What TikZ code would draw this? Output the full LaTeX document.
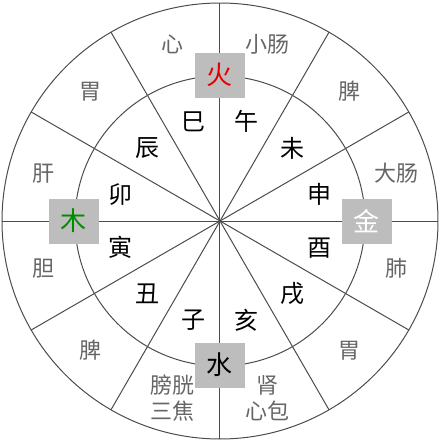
\documentclass[tikz,border=0pt]{standalone}
\usepackage{fontspec}
\newfontfamily\cjk{Noto Sans CJK SC}
\tikzset{
  ring/.style={draw=black!70, line width=1pt},
  branch/.style={font=\cjk\fontsize{24}{24}\selectfont, text=black},
  organ/.style={font=\cjk\fontsize{22}{26}\selectfont, text=black!60, align=center},
  phase/.style={fill=black!26, minimum width=50pt, minimum height=45pt,
    inner sep=0pt, font=\cjk\fontsize{26}{26}\selectfont}
}

\begin{document}
\begin{tikzpicture}[x=1pt,y=1pt]
  \useasboundingbox (-220,-219) rectangle (220,221);
  \coordinate (O) at (0,0);
  \draw[ring] (O) circle (218);
  \draw[ring] (O) circle (145);
  \foreach \a in {0,30,...,330}
    \draw[ring] (O) -- (\a:218);
  % branches
  \foreach \t/\a [count=\i] in {午/75, 未/45, 申/15, 酉/-15, 戌/-45, 亥/-75,
      子/-105, 丑/-135, 寅/-165, 卯/165, 辰/135, 巳/105}
    \node[branch] (b\i) at (\a:103) {\t};
  % organs
  \foreach \t/\a [count=\i] in {小肠/75, 脾/45, 大肠/15, 肺/-15, 胃/-45,
      {肾\\心包}/-75, {膀胱\\三焦}/-105, 脾/-135, 胆/-165, 肝/165, 胃/135, 心/105}
    \node[organ] (o\i) at (\a:183) {\t};
  % phases
  \node[phase, text=red!90!black] (fire) at (90:146) {火};
  \node[phase, text=white] (metal) at (0:147) {金};
  \node[phase, text=black] (water) at (-90:144) {水};
  \node[phase, text=green!55!black] (wood) at (180:146) {木};
\end{tikzpicture}
\end{document}
